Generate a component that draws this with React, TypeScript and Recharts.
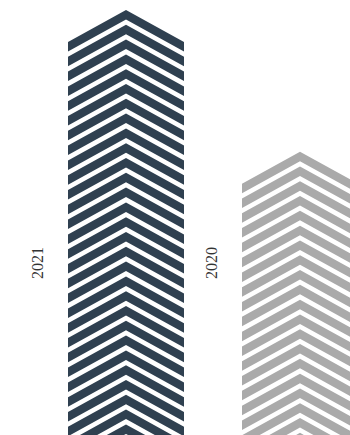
import React from 'react';
import { BarChart, Bar, XAxis, YAxis, Cell } from 'recharts';

const years = ['2021', '2020'];
const values = [3000, 2000];
const colors = ['#2f4050', '#aaaaaa'];

const data = years.map((year, i) => ({ year, value: values[i] }));

// chevron geometry
const STEP = 14.8;
const RISE = 32;
const THICK = 9.5;
const LABEL_Y = 263;
const LABEL_GAP = 31;

const ChevronBar = (props: any) => {
  const { x, y, width, height, fill, payload } = props;
  const cx = x + width / 2;
  const bottom = y + height;
  const paths: React.ReactNode[] = [];
  for (let k = 0; y + k * STEP < bottom; k++) {
    const top = y + k * STEP;
    const d = `M${x},${top + RISE} L${cx},${top} L${x + width},${top + RISE} L${x + width},${top + RISE + THICK} L${cx},${top + THICK} L${x},${top + RISE + THICK} Z`;
    paths.push(<path key={k} d={d} fill={fill} />);
  }
  const lx = x - LABEL_GAP;
  return (
    <g>
      {paths}
      <text
        x={lx}
        y={LABEL_Y}
        transform={`rotate(-90, ${lx}, ${LABEL_Y})`}
        textAnchor="middle"
        dominantBaseline="central"
        fontFamily="'Liberation Serif', serif"
        fontSize={16}
        fill="#333"
      >
        {payload.year}
      </text>
    </g>
  );
};

export default function App() {
  return (
    <div style={{ position: 'absolute', left: 0, top: 0, width: 350, height: 435, overflow: 'hidden', background: '#fff' }}>
      <BarChart width={400} height={435} data={data} margin={{ top: 10, right: 13, bottom: 0, left: 39 }}>
        <XAxis dataKey="year" hide />
        <YAxis hide domain={[0, 3000]} />
        <Bar dataKey="value" barSize={116} shape={ChevronBar} isAnimationActive={false}>
          {data.map((d, i) => (
            <Cell key={d.year} fill={colors[i]} />
          ))}
        </Bar>
      </BarChart>
    </div>
  );
}
